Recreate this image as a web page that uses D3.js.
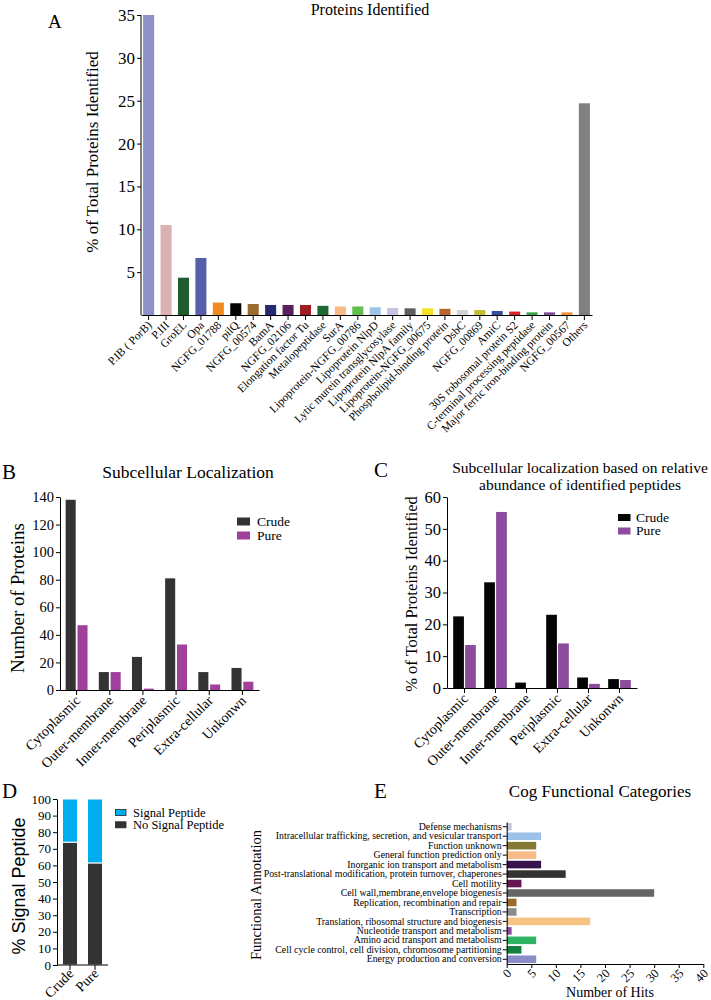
<!DOCTYPE html>
<html><head><meta charset="utf-8">
<script src="https://cdn.jsdelivr.net/npm/d3@7"></script>
<style>body{margin:0;background:#fff}</style>
</head><body><svg id="c" width="711" height="1000"></svg>
<script>
// ---------- DATA ----------
const proteinNames = ["P.IB ( PorB)","P.III","GroEL","Opa","NGFG_01788","pilQ","NGFG_00574","BamA","NGFG_02106","Elongation factor Tu","Metalopeptidase","SurA","Lipoprotein-NGFG_00786","Lipoprotein NlpD","Lytic murein transglycosylase","Lipoprotein NlpA family","Lipoprotein-NGFG_00675","Phospholipid-binding protein","DsbC","NGFG_00869","AmiC","30S robosomal protein S2","C-terminal processing peptidase","Major ferric iron-binding protein","NGFG_00567","Others"];
const proteinValues = [35, 10.5, 4.35, 6.65, 1.45, 1.37, 1.28, 1.17, 1.17, 1.17, 1.07, 1.0, 1.0, 0.9, 0.82, 0.78, 0.78, 0.72, 0.58, 0.58, 0.47, 0.4, 0.31, 0.31, 0.31, 24.7];
const proteinTicks = [5, 10, 15, 20, 25, 30, 35];

const locCategories = ["Cytoplasmic","Outer-membrane","Inner-membrane","Periplasmic","Extra-cellular","Unkonwn"];
const locCountCrude = [138, 13, 24, 81, 13, 16];
const locCountPure = [47, 13, 1, 33, 4, 6];
const locCountTicks = [0, 20, 40, 60, 80, 100, 120, 140];

const locAbundCrude = [22.5, 33.2, 1.7, 23, 3.3, 2.8];
const locAbundPure = [13.5, 55.3, 0, 14, 1.3, 2.5];
const locAbundTicks = [0, 10, 20, 30, 40, 50, 60];

const sigSamples = ["Crude","Pure"];
const sigNoSignal = [74, 61.5];
const sigSignal = [26, 38.5];
const sigTicks = [0,10,20,30,40,50,60,70,80,90,100];

const cogCategories = ["Defense mechanisms","Intracellular trafficking, secretion, and vesicular transport","Function unknown","General function prediction only","Inorganic ion transport and metabolism","Post-translational modification, protein turnover, chaperones","Cell motility","Cell wall,membrane,envelope biogenesis","Replication, recombination and repair","Transcription","Translation, ribosomal structure and biogenesis","Nucleotide transport and metabolism","Amino acid transport and metabolism","Cell cycle control, cell division, chromosome partitioning","Energy production and conversion"];
const cogHits = [1, 7, 6, 6, 7, 12, 3, 30, 2, 2, 17, 1, 6, 3, 6];
const cogTicks = [0,5,10,15,20,25,30,35,40];

// ---------- STYLE ----------
const SERIF = '"Liberation Serif","Times New Roman",serif';
const SANS = '"Liberation Sans",Arial,sans-serif';
const proteinColors = ["#8e90c8","#dab2b2","#1f5c30","#5660a9","#f28a22","#050505","#9a6b2c","#262b70","#5c1f5e","#a21d22","#1d6832","#f6bb86","#62bf4f","#9bc4e9","#c6c2e2","#5e5e5e","#f2e424","#b8642a","#d2d2d2","#c2bd34","#30509f","#d52529","#31a64a","#7c4c94","#f3903f","#808080"];
const cogColors = ["#c8c4e4","#9cc2ea","#857a35","#f6bb86","#38144c","#333333","#651752","#666666","#9a6b2c","#8a8a8a","#f8c285","#8a4aa0","#2fb262","#138040","#8a8cc8"];
const crudeB = "#333333", pureB = "#a0409c";
const crudeC = "#050505", pureC = "#8c4b9c";
const sigColor = "#00adee", noSigColor = "#333333";

const svg = d3.select("#c");

function styleAxis(g, size, fam) {
  g.attr("font-family", fam || SERIF).attr("font-size", size);
  g.selectAll("path,line").attr("stroke", "#000").attr("stroke-width", 1);
  g.selectAll("text").attr("fill", "#000");
}
function rotLabels(g, off, dx) {
  g.selectAll(".tick text")
    .attr("x", 0).attr("y", 0).attr("dy", "0.35em")
    .attr("text-anchor", "end")
    .attr("transform", `translate(${dx||0},${off}) rotate(-45)`);
}
function txt(x, y, s, size, opts) {
  opts = opts || {};
  return svg.append("text").attr("x", x).attr("y", y).text(s)
    .attr("font-family", opts.fam || SERIF).attr("font-size", size)
    .attr("text-anchor", opts.anchor || "start").attr("fill", "#000");
}
function rotTxt(x, y, s, size, fam) {
  return svg.append("text").attr("transform", `translate(${x},${y}) rotate(-90)`)
    .text(s).attr("font-family", fam || SERIF).attr("font-size", size)
    .attr("text-anchor", "middle").attr("fill", "#000");
}

// ---------- PANEL A ----------
{
  const x = d3.scaleBand().domain(proteinNames).range([141, 592]).paddingInner(0.366).paddingOuter(0.12);
  const y = d3.scaleLinear().domain([0, 35]).range([315, 15]);
  svg.append("g").selectAll("rect").data(proteinNames).join("rect")
    .attr("x", d => x(d)).attr("width", x.bandwidth())
    .attr("y", (d, i) => y(proteinValues[i])).attr("height", (d, i) => y(0) - y(proteinValues[i]))
    .attr("fill", (d, i) => proteinColors[i]);
  const gy = svg.append("g").attr("transform", "translate(141,0)")
    .call(d3.axisLeft(y).tickValues(proteinTicks).tickSize(4).tickSizeOuter(0).tickPadding(2));
  styleAxis(gy, 17);
  gy.select(".domain").attr("d", `M0,${y(35)}V${y(0)}`);
  const gx = svg.append("g").attr("transform", "translate(0,315)")
    .call(d3.axisBottom(x).tickSize(5).tickSizeOuter(0));
  styleAxis(gx, 11.5);
  rotLabels(gx, 8, 1);
  txt(370, 15, "Proteins Identified", 16, {anchor: "middle"});
  txt(48, 28, "A", 19);
  rotTxt(98, 152, "% of Total Proteins Identified", 17);
}

// ---------- PANEL B ----------
{
  const x0 = d3.scaleBand().domain(locCategories).range([60, 259]).paddingInner(0.34).paddingOuter(0.17);
  const x1 = d3.scaleBand().domain(["crude","pure"]).range([0, x0.bandwidth()]).paddingInner(0.15);
  const y = d3.scaleLinear().domain([0, 140]).range([690, 497]);
  const g = svg.append("g");
  g.selectAll(".c").data(locCategories).join("rect")
    .attr("x", d => x0(d) + x1("crude")).attr("width", x1.bandwidth())
    .attr("y", (d, i) => y(locCountCrude[i])).attr("height", (d, i) => y(0) - y(locCountCrude[i]))
    .attr("fill", crudeB);
  g.selectAll(".p").data(locCategories).join("rect")
    .attr("x", d => x0(d) + x1("pure")).attr("width", x1.bandwidth())
    .attr("y", (d, i) => y(locCountPure[i])).attr("height", (d, i) => y(0) - y(locCountPure[i]))
    .attr("fill", pureB);
  const gy = svg.append("g").attr("transform", "translate(60,0)")
    .call(d3.axisLeft(y).tickValues(locCountTicks).tickSize(4).tickSizeOuter(0).tickPadding(2));
  styleAxis(gy, 14.5);
  const gx = svg.append("g").attr("transform", "translate(0,690)")
    .call(d3.axisBottom(x0).tickSize(5).tickSizeOuter(0));
  styleAxis(gx, 14);
  rotLabels(gx, 8, 1);
  txt(188, 478, "Subcellular Localization", 17.5, {anchor: "middle"});
  txt(2, 479, "B", 21);
  rotTxt(24, 598, "Number of Proteins", 19);
  const lg = [["Crude", crudeB], ["Pure", pureB]];
  lg.forEach((l, i) => {
    svg.append("rect").attr("x", 237).attr("y", 517.5 + i * 14).attr("width", 13).attr("height", 8).attr("fill", l[1]);
    txt(257, 525.5 + i * 14, l[0], 13.5);
  });
}

// ---------- PANEL C ----------
{
  const x0 = d3.scaleBand().domain(locCategories).range([447, 637]).paddingInner(0.27).paddingOuter(0.2);
  const x1 = d3.scaleBand().domain(["crude","pure"]).range([0, x0.bandwidth()]).paddingInner(0.1);
  const y = d3.scaleLinear().domain([0, 60]).range([688, 497]);
  const g = svg.append("g");
  g.selectAll(".c").data(locCategories).join("rect")
    .attr("x", d => x0(d) + x1("crude")).attr("width", x1.bandwidth())
    .attr("y", (d, i) => y(locAbundCrude[i])).attr("height", (d, i) => y(0) - y(locAbundCrude[i]))
    .attr("fill", crudeC);
  g.selectAll(".p").data(locCategories).join("rect")
    .attr("x", d => x0(d) + x1("pure")).attr("width", x1.bandwidth())
    .attr("y", (d, i) => y(locAbundPure[i])).attr("height", (d, i) => y(0) - y(locAbundPure[i]))
    .attr("fill", pureC);
  const gy = svg.append("g").attr("transform", "translate(447,0)")
    .call(d3.axisLeft(y).tickValues(locAbundTicks).tickSize(4).tickSizeOuter(0).tickPadding(2));
  styleAxis(gy, 16.5);
  const gx = svg.append("g").attr("transform", "translate(0,688)")
    .call(d3.axisBottom(x0).tickSize(5).tickSizeOuter(0));
  styleAxis(gx, 14);
  rotLabels(gx, 8, 1);
  txt(580, 473, "Subcellular localization based on relative", 15.5, {anchor: "middle"});
  txt(580, 490, "abundance of identified peptides", 15.5, {anchor: "middle"});
  txt(374, 477, "C", 21);
  rotTxt(417, 594, "% of Total Proteins Identified", 16.5);
  const lg = [["Crude", crudeC], ["Pure", pureC]];
  lg.forEach((l, i) => {
    svg.append("rect").attr("x", 618).attr("y", 514 + i * 13.5).attr("width", 12.5).attr("height", 7).attr("fill", l[1]);
    txt(636, 521.5 + i * 13.5, l[0], 13.5);
  });
}

// ---------- PANEL D ----------
{
  const x = d3.scaleBand().domain(sigSamples).range([57, 108]).paddingInner(0.4).paddingOuter(0.22);
  const y = d3.scaleLinear().domain([0, 100]).range([965, 799]);
  const rows = sigSamples.map((s, i) => ({s, noSignal: sigNoSignal[i], signal: sigSignal[i]}));
  const stack = d3.stack().keys(["noSignal","signal"])(rows);
  const cols = {noSignal: noSigColor, signal: sigColor};
  svg.append("g").selectAll("g").data(stack).join("g").attr("fill", d => cols[d.key])
    .selectAll("rect").data(d => d).join("rect")
    .attr("x", d => x(d.data.s)).attr("width", x.bandwidth())
    .attr("y", d => y(d[1])).attr("height", d => y(d[0]) - y(d[1]))
    .attr("stroke", "#fff").attr("stroke-width", 1);
  const gy = svg.append("g").attr("transform", "translate(57,0)")
    .call(d3.axisLeft(y).tickValues(sigTicks).tickSize(4).tickSizeOuter(0).tickPadding(2));
  styleAxis(gy, 13);
  const gx = svg.append("g").attr("transform", "translate(0,965)")
    .call(d3.axisBottom(x).tickSize(5).tickSizeOuter(0));
  styleAxis(gx, 14);
  gx.select(".domain").attr("d", "M57,0H108");
  rotLabels(gx, 6, 1);
  txt(2, 798, "D", 21);
  rotTxt(25, 886, "% Signal Peptide", 18, SANS);
  const lg = [["Signal Peptide", sigColor], ["No Signal Peptide", noSigColor]];
  lg.forEach((l, i) => {
    svg.append("rect").attr("x", 115.5).attr("y", 809.5 + i * 12.3).attr("width", 10.5).attr("height", 6)
      .attr("fill", l[1]).attr("stroke", "#222").attr("stroke-width", 0.8);
    txt(133, 816.5 + i * 12.3, l[0], 12.5);
  });
}

// ---------- PANEL E ----------
{
  const y = d3.scaleBand().domain(cogCategories).range([822, 964]).paddingInner(0.2).paddingOuter(0.1);
  const x = d3.scaleLinear().domain([0, 40]).range([506.7, 703.3]);
  svg.append("g").selectAll("rect").data(cogCategories).join("rect")
    .attr("x", x(0)).attr("y", d => y(d)).attr("height", y.bandwidth())
    .attr("width", (d, i) => x(cogHits[i]) - x(0))
    .attr("fill", (d, i) => cogColors[i]);
  const gy = svg.append("g").attr("transform", `translate(${x(0)},0)`)
    .call(d3.axisLeft(y).tickSize(4).tickSizeOuter(0).tickPadding(1));
  styleAxis(gy, 9.8);
  const gx = svg.append("g").attr("transform", "translate(0,964)")
    .call(d3.axisBottom(x).tickValues(cogTicks).tickSize(4).tickSizeOuter(0));
  styleAxis(gx, 12.5);
  rotLabels(gx, 7, 2);
  txt(374, 798, "E", 21);
  txt(600, 797, "Cog Functional Categories", 17, {anchor: "middle"});
  rotTxt(261, 895, "Functional Annotation", 14.5);
  txt(610, 997, "Number of Hits", 14, {anchor: "middle"});
}
</script></body></html>
